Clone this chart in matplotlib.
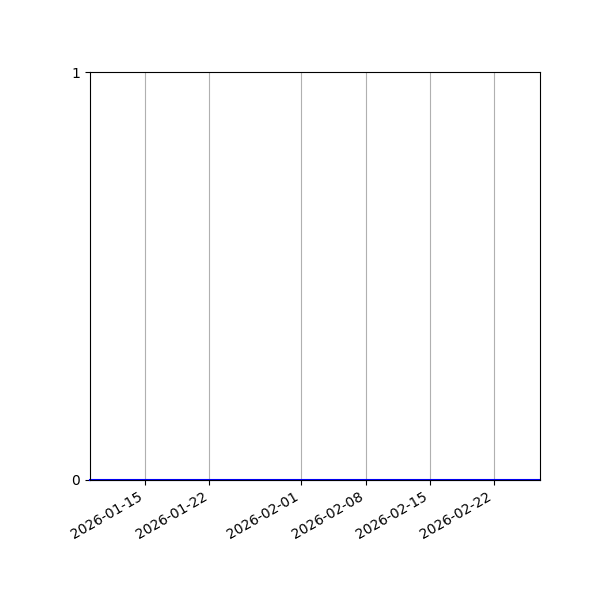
import matplotlib
matplotlib.use('Agg')
import matplotlib.pyplot as plt
import pandas as pd

# data (all counts are zero over the period)
dates = ['2026-01-09', '2026-01-15', '2026-01-22', '2026-02-01',
         '2026-02-08', '2026-02-15', '2026-02-22', '2026-02-27']
counts = [0, 0, 0, 0, 0, 0, 0, 0]

x = pd.to_datetime(dates)

fig, ax = plt.subplots(figsize=(6, 6), dpi=100)
ax.plot(x, counts, color='blue', linewidth=1.5, clip_on=False)
ax.set_xlim(x[0], x[-1])
ax.set_ylim(0, 1)
ax.set_yticks([0, 1])
ax.grid(True, axis='x', color='#b0b0b0')
fig.autofmt_xdate()
fig.subplots_adjust(left=0.15, right=0.9, top=0.88, bottom=0.2)
fig.savefig('out.png')
